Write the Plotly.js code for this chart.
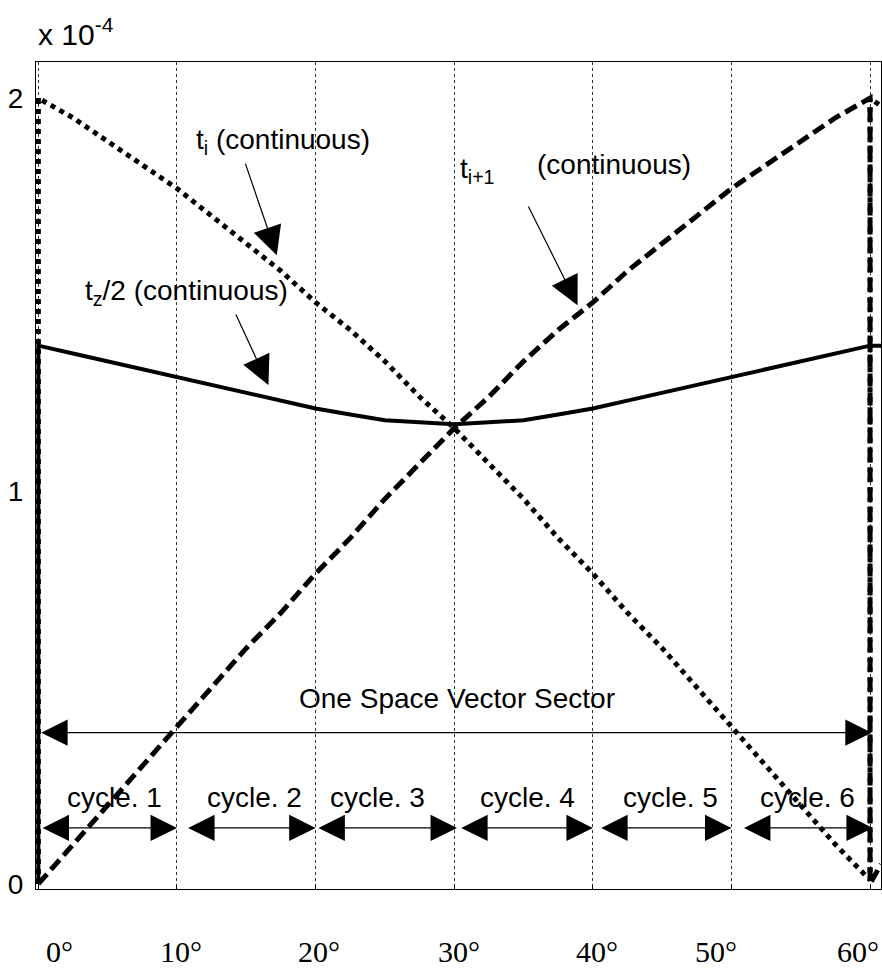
<!DOCTYPE html>
<html>
<head>
<meta charset="utf-8">
<script src="https://cdn.plot.ly/plotly-3.0.1.min.js"></script>
<style>
  html, body { margin: 0; padding: 0; background: #ffffff; }
  #chart { width: 882px; height: 969px; }
</style>
</head>
<body>
<div id="chart"></div>
<script>
// Switching angle inside one space-vector sector (degrees). The repeated
// 0 and 60 entries carry the jumps at the sector boundaries; the last
// sample belongs to the start of the next sector.
const angle = [0, 0, 2.5, 5, 7.5, 10, 12.5, 15, 17.5, 20, 22.5, 25, 27.5, 30,
               32.5, 35, 37.5, 40, 42.5, 45, 47.5, 50, 52.5, 55, 57.5, 60, 60, 60.79];

// Dwell times in units of 1e-4 s
const tI = [0.00, 2.00, 1.95, 1.89, 1.83, 1.77, 1.70, 1.63, 1.56, 1.48, 1.41, 1.33, 1.24, 1.16,
            1.07, 0.98, 0.88, 0.79, 0.69, 0.60, 0.50, 0.40, 0.30, 0.20, 0.10, 0.01, 2.00, 1.98];
const tI1 = [0.00, 0.00, 0.10, 0.20, 0.30, 0.40, 0.50, 0.60, 0.69, 0.79, 0.88, 0.98, 1.07, 1.16,
             1.24, 1.33, 1.41, 1.48, 1.56, 1.63, 1.70, 1.77, 1.83, 1.89, 1.95, 2.00, 0.00, 0.05];
const tZHalf = [0.00, 1.37, 1.35, 1.33, 1.31, 1.29, 1.27, 1.25, 1.23, 1.21, 1.195, 1.18, 1.175, 1.17,
                1.175, 1.18, 1.195, 1.21, 1.23, 1.25, 1.27, 1.29, 1.31, 1.33, 1.35, 1.37, 1.37, 1.37];

// Axis ticks
const yTicks = [0, 1, 2];
const yTickText = ['0', '1', '2'];
const degreeTicks = [0, 10, 20, 30, 40, 50, 60];
const degreeText = ['0°', '10°', '20°', '30°', '40°', '50°', '60°'];

// Switching cycles within the sector (degrees)
const cycleNames = ['cycle. 1', 'cycle. 2', 'cycle. 3', 'cycle. 4', 'cycle. 5', 'cycle. 6'];
const cycleStart = [0.2, 10.7, 20.1, 30.4, 40.5, 50.8];
const cycleEnd = [10.0, 20.0, 30.2, 40.0, 50.0, 60.2];
const sectorStart = 0.1;
const sectorEnd = 60.12;

// ---- layout helpers ----
const SANS = 'Liberation Sans, Arial, sans-serif';
const SERIF = 'Liberation Serif, Times New Roman, serif';
const degreeLabelAt = [1.5, 10.3, 20.25, 30.35, 40.3, 48.9, 59.1];
const cycleLabelAt = [5.46, 15.6, 24.5, 35.3, 45.6, 55.5];

const traces = [
  { x: angle, y: tI, mode: 'lines', name: 't_i',
    line: { color: '#000', width: 5, dash: 'dot' } },
  { x: angle, y: tI1, mode: 'lines', name: 't_i+1',
    line: { color: '#000', width: 5, dash: '13px,6px' } },
  { x: angle, y: tZHalf, mode: 'lines', name: 't_z/2',
    line: { color: '#000', width: 4 } }
];

const annotations = [];

// exponent of the y axis
annotations.push({
  xref: 'paper', yref: 'paper', x: 0, y: 1.036, xanchor: 'left', yanchor: 'middle',
  text: 'x 10<sup>-4</sup>', showarrow: false, font: { family: SANS, size: 30, color: '#000' }
});

// degree labels under the axis
degreeText.forEach((t, i) => annotations.push({
  xref: 'x', yref: 'paper', x: degreeLabelAt[i], y: -0.075, xanchor: 'center', yanchor: 'middle',
  text: t, showarrow: false, font: { family: SERIF, size: 30, color: '#000' }
}));

// curve labels
const labelFont = { family: SANS, size: 28, color: '#000' };
annotations.push({ x: 24.07, y: 1.89, xanchor: 'right', yanchor: 'middle', showarrow: false,
  text: 't<sub>i</sub> (continuous)', font: labelFont });
annotations.push({ x: 30.27, y: 1.817, xanchor: 'left', yanchor: 'middle', showarrow: false,
  text: 't<sub>i+1</sub>', font: labelFont });
annotations.push({ x: 47.23, y: 1.83, xanchor: 'right', yanchor: 'middle', showarrow: false,
  text: '(continuous)', font: labelFont });
annotations.push({ x: 18.15, y: 1.506, xanchor: 'right', yanchor: 'middle', showarrow: false,
  text: 't<sub>z</sub>/2 (continuous)', font: labelFont });
annotations.push({ x: 30.2, y: 0.473, xanchor: 'center', yanchor: 'middle', showarrow: false,
  text: 'One Space Vector Sector', font: labelFont });

// pointer arrows from the labels to the curves
function pointer(tail, tip) {
  annotations.push({
    x: tip[0], y: tip[1], ax: tail[0], ay: tail[1], axref: 'x', ayref: 'y',
    text: '', showarrow: true, arrowhead: 2, arrowsize: 4.8, arrowwidth: 1.2, arrowcolor: '#000',
    standoff: 0
  });
}
pointer([14.9, 1.837], [17.2, 1.60]);
pointer([35.3, 1.728], [38.9, 1.473]);
pointer([14.2, 1.453], [16.6, 1.27]);

// double-headed span arrows
function span(x0, x1, y) {
  annotations.push({
    x: x1, y: y, ax: x0, ay: y, axref: 'x', ayref: 'y',
    text: '', showarrow: true, arrowside: 'end+start',
    arrowhead: 2, startarrowhead: 2, arrowsize: 4.4, startarrowsize: 4.4,
    arrowwidth: 1.2, arrowcolor: '#000', standoff: 0, startstandoff: 0
  });
}
span(sectorStart, sectorEnd, 0.385);
cycleNames.forEach((name, i) => {
  span(cycleStart[i], cycleEnd[i], 0.1425);
  annotations.push({ x: cycleLabelAt[i], y: 0.221, xanchor: 'center', yanchor: 'middle',
    showarrow: false, text: name, font: labelFont });
});

const layout = {
  width: 882, height: 969,
  margin: { l: 36, r: 1, t: 62, b: 80, pad: 0 },
  paper_bgcolor: '#fff', plot_bgcolor: '#fff',
  showlegend: false,
  xaxis: {
    range: [-0.17, 60.79], tickmode: 'array', tickvals: degreeTicks, showticklabels: false,
    ticks: 'inside', ticklen: 5, tickcolor: '#000',
    showgrid: true, gridcolor: '#333', gridwidth: 1, griddash: '3px,3px',
    showline: true, mirror: true, linecolor: '#000', linewidth: 1, zeroline: false
  },
  yaxis: {
    range: [-0.013, 2.092], tickmode: 'array', tickvals: yTicks, ticktext: yTickText,
    ticks: 'inside', ticklen: 5, tickcolor: '#000', ticklabelstandoff: 6,
    tickfont: { family: SANS, size: 28, color: '#000' },
    showgrid: false, showline: true, mirror: true, linecolor: '#000', linewidth: 1, zeroline: false
  },
  annotations: annotations
};

Plotly.newPlot('chart', traces, layout, { staticPlot: true, displayModeBar: false });
</script>
</body>
</html>
